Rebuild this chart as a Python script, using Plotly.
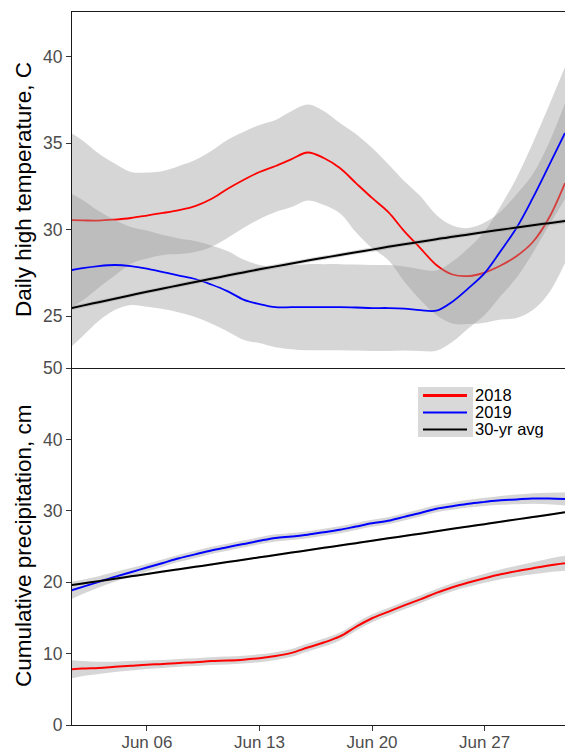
import numpy as np
import pandas as pd
import plotly.graph_objects as go

# ---------------- data ----------------
dates = pd.date_range("2019-06-01", "2019-07-02", freq="D")

# Daily high temperature (C), smoothed fits
temp_2018 = [30.56, 30.54, 30.53, 30.59, 30.68, 30.82, 30.97, 31.14, 31.37, 31.78,
             32.36, 32.88, 33.34, 33.69, 34.09, 34.47, 34.15, 33.57, 32.70, 31.84,
             31.03, 29.92, 28.94, 27.96, 27.41, 27.32, 27.52, 27.93, 28.48, 29.29,
             30.68, 32.70]
temp_2018_ci = [5.20, 4.63, 3.88, 3.24, 2.66, 2.49, 2.43, 2.55, 2.66, 2.78,
                2.84, 2.78, 2.72, 2.66, 2.78, 2.78, 2.72, 2.61, 2.84, 2.90,
                2.78, 2.90, 3.01, 2.90, 2.84, 2.78, 2.90, 3.13, 3.59, 3.94,
                4.34, 4.63]
temp_2019 = [27.61, 27.78, 27.90, 27.96, 27.90, 27.75, 27.55, 27.35, 27.15, 26.83,
             26.45, 25.96, 25.70, 25.52, 25.52, 25.52, 25.52, 25.52, 25.50, 25.47,
             25.47, 25.44, 25.35, 25.32, 25.84, 26.62, 27.49, 28.77, 30.13, 31.84,
             33.71, 35.60]
temp_2019_ci = [4.63, 3.94, 3.18, 2.61, 2.26, 2.20, 2.14, 2.14, 2.20, 2.26,
                2.32, 2.32, 2.26, 2.32, 2.43, 2.49, 2.49, 2.49, 2.49, 2.49,
                2.49, 2.43, 2.37, 2.32, 2.32, 2.32, 2.43, 2.61, 2.90, 3.18,
                3.47, 3.82]
temp_avg = [25.40, 25.61, 25.81, 26.01, 26.21, 26.41, 26.60, 26.79, 26.98, 27.16,
            27.35, 27.53, 27.71, 27.88, 28.05, 28.22, 28.38, 28.54, 28.70, 28.85,
            29.01, 29.16, 29.30, 29.45, 29.60, 29.73, 29.87, 30.00, 30.13, 30.26,
            30.38, 30.50]
temp_avg_ci = [0.12] * 32

# Cumulative precipitation (cm)
prec_2018 = [7.75, 7.90, 8.00, 8.15, 8.30, 8.45, 8.55, 8.70, 8.80, 8.95,
             9.03, 9.15, 9.35, 9.65, 10.10, 10.85, 11.55, 12.40, 13.75, 14.95,
             15.85, 16.75, 17.60, 18.50, 19.30, 19.95, 20.55, 21.10, 21.55, 21.95,
             22.35, 22.65]
prec_2018_ci = [1.40, 1.05, 0.85, 0.72, 0.65, 0.60, 0.57, 0.55, 0.55, 0.55,
                0.55, 0.55, 0.55, 0.55, 0.55, 0.55, 0.55, 0.55, 0.55, 0.55,
                0.55, 0.55, 0.55, 0.55, 0.57, 0.60, 0.63, 0.68, 0.75, 0.85,
                0.95, 1.05]
prec_2019 = [18.65, 19.35, 20.05, 20.75, 21.40, 22.05, 22.70, 23.35, 23.90, 24.45,
             24.90, 25.35, 25.80, 26.20, 26.40, 26.65, 27.00, 27.35, 27.80, 28.25,
             28.60, 29.15, 29.70, 30.30, 30.65, 31.00, 31.25, 31.47, 31.60, 31.72,
             31.72, 31.65]
prec_2019_ci = [1.30, 1.00, 0.80, 0.68, 0.60, 0.55, 0.52, 0.50, 0.50, 0.50,
                0.50, 0.50, 0.50, 0.50, 0.50, 0.50, 0.50, 0.50, 0.50, 0.50,
                0.50, 0.50, 0.50, 0.50, 0.52, 0.55, 0.58, 0.62, 0.68, 0.75,
                0.82, 0.90]
prec_avg = [19.49, 19.82, 20.15, 20.49, 20.82, 21.15, 21.49, 21.82, 22.15, 22.48,
            22.82, 23.15, 23.48, 23.82, 24.15, 24.48, 24.81, 25.14, 25.47, 25.80,
            26.14, 26.47, 26.80, 27.13, 27.47, 27.80, 28.13, 28.46, 28.80, 29.13,
            29.46, 29.80]
prec_avg_ci = [0.15] * 32

series_names = ["2018", "2019", "30-yr avg"]
series_colors = ["#ff0000", "#0000ff", "#000000"]
temp_tickvals = [25, 30, 35, 40]
prec_tickvals = [0, 10, 20, 30, 40, 50]
date_ticks = ["2019-06-06", "2019-06-13", "2019-06-20", "2019-06-27"]

# ---------------- figure ----------------
FONT = "Arial, Liberation Sans, sans-serif"
RIBBON = "rgba(153,153,153,0.4)"

fig = go.Figure()


def add_smooth(x, y, ci, color, xa, ya, lw):
    y = np.asarray(y)
    ci = np.asarray(ci)
    fig.add_trace(go.Scatter(x=x, y=y - ci, mode="lines", line=dict(width=0, shape="spline"),
                             xaxis=xa, yaxis=ya, showlegend=False, hoverinfo="skip"))
    fig.add_trace(go.Scatter(x=x, y=y + ci, mode="lines", line=dict(width=0, shape="spline"),
                             fill="tonexty", fillcolor=RIBBON,
                             xaxis=xa, yaxis=ya, showlegend=False, hoverinfo="skip"))
    fig.add_trace(go.Scatter(x=x, y=y, mode="lines", line=dict(color=color, width=lw, shape="spline"),
                             xaxis=xa, yaxis=ya, showlegend=False))


temp_series = [(temp_2018, temp_2018_ci), (temp_2019, temp_2019_ci), (temp_avg, temp_avg_ci)]
prec_series = [(prec_2018, prec_2018_ci), (prec_2019, prec_2019_ci), (prec_avg, prec_avg_ci)]
for (vals, ci), col in zip(temp_series, series_colors):
    add_smooth(dates, vals, ci, col, "x2", "y2", 1.8 if col != "#000000" else 2.0)
for (vals, ci), col in zip(prec_series, series_colors):
    add_smooth(dates, vals, ci, col, "x", "y", 2.0)

W, H = 565, 751
ML, MR, MT, MB = 72, 0, 12, 26
PW, PH = W - ML - MR, H - MT - MB


def px(xpix):
    return (xpix - ML) / PW


def py(ypix):
    return (H - MB - ypix) / PH


split = py(368)
xrange_ = ["2019-06-01 08:10", "2019-07-02 00:00"]
tickfont = dict(family=FONT, size=17.5, color="#4d4d4d")
common = dict(showgrid=False, zeroline=False, automargin=False,
              linecolor="#1a1a1a", linewidth=1.2)

fig.update_layout(
    template="none",
    width=W, height=H,
    margin=dict(l=ML, r=MR, t=MT, b=MB, autoexpand=False),
    paper_bgcolor="white", plot_bgcolor="white",
    showlegend=False,
    xaxis=dict(domain=[0, 1], anchor="y", range=xrange_, type="date",
               tickvals=date_ticks, tickformat="%b %d",
               tickfont=dict(family=FONT, size=17, color="#4d4d4d"),
               ticks="outside", ticklen=5, tickcolor="#333333", tickwidth=1,
               ticklabelstandoff=-4,
               showline=True, **common),
    xaxis2=dict(domain=[0, 1], anchor="y2", range=xrange_, type="date", matches="x",
                showticklabels=False, ticks="",
                showline=True, mirror=True, **common),
    yaxis=dict(domain=[0, split], anchor="x", range=[0, 50], tickvals=prec_tickvals,
               tickfont=tickfont, ticks="outside", ticklen=5, tickcolor="#333333", tickwidth=1,
               showline=True, **common),
    yaxis2=dict(domain=[split, 1], anchor="x2", range=[22, 42.6], tickvals=temp_tickvals,
                tickfont=tickfont, ticks="outside", ticklen=5, tickcolor="#333333", tickwidth=1,
                showline=True, **common),
)

# axis titles
fig.add_annotation(text="Daily high temperature, C", textangle=-90, xref="paper", yref="paper",
                   x=px(23), y=py(190), xanchor="center", yanchor="middle", showarrow=False,
                   font=dict(family=FONT, size=22.5, color="black"))
fig.add_annotation(text="Cumulative precipitation, cm", textangle=-90, xref="paper", yref="paper",
                   x=px(23), y=py(546), xanchor="center", yanchor="middle", showarrow=False,
                   font=dict(family=FONT, size=22.5, color="black"))

# legend (ggplot-style with grey key background)
fig.add_shape(type="rect", xref="paper", yref="paper", x0=px(418), x1=px(473), y0=py(437), y1=py(387),
              fillcolor="#d9d9d9", line=dict(width=0), layer="above")
leg_y = [395.5, 412.5, 429.5]
leg_w = [2.8, 2.0, 2.0]
for name, col, yy, lw in zip(series_names, series_colors, leg_y, leg_w):
    fig.add_shape(type="line", xref="paper", yref="paper", x0=px(423), x1=px(467), y0=py(yy), y1=py(yy),
                  line=dict(color=col, width=lw), layer="above")
    fig.add_annotation(text=name, xref="paper", yref="paper", x=px(474), y=py(yy),
                       xanchor="left", yanchor="middle", showarrow=False,
                       height=16.5, borderpad=0,
                       font=dict(family=FONT, size=16.5, color="black"))

fig.write_html("out.html")
